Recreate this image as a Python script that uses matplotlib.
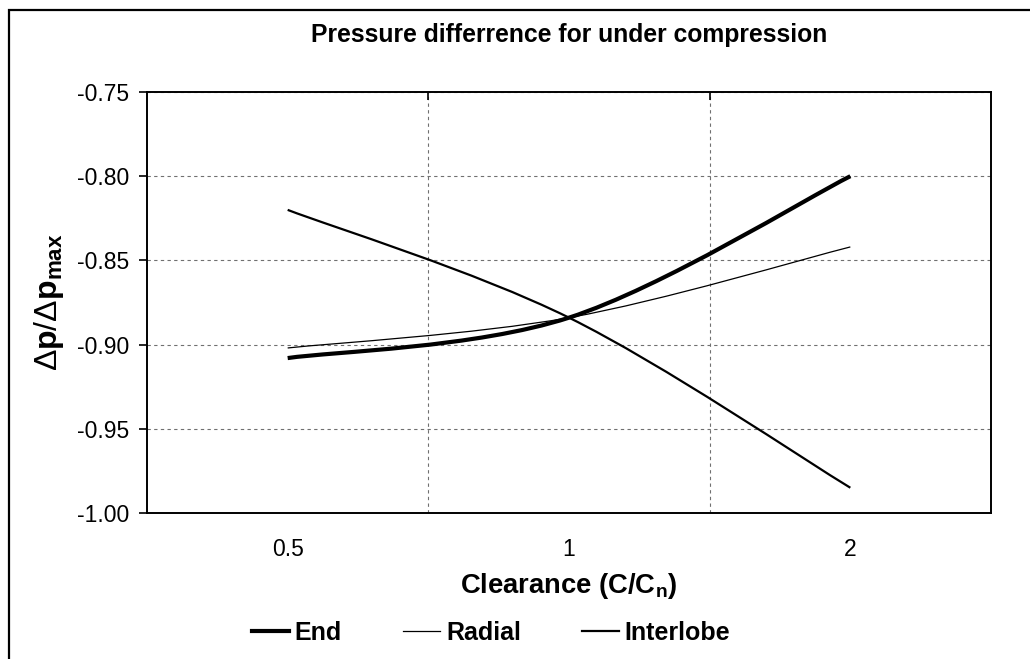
import matplotlib.pyplot as plt
from matplotlib.path import Path
from matplotlib.patches import PathPatch, Rectangle
from matplotlib.lines import Line2D

plt.rcParams['font.family'] = ['Liberation Sans', 'DejaVu Sans']
plt.rcParams['mathtext.fontset'] = 'custom'
plt.rcParams['mathtext.rm'] = 'Liberation Sans'
plt.rcParams['mathtext.bf'] = 'Liberation Sans:bold'

clearance = ['0.5', '1', '2']
end = [-0.908, -0.884, -0.800]
radial = [-0.902, -0.884, -0.842]
interlobe = [-0.820, -0.884, -0.985]
yticks = [-1.00, -0.95, -0.90, -0.85, -0.80, -0.75]


def smooth_path(ys):
    # Excel-style smoothed line: cubic bezier through the points
    xs = list(range(len(ys)))
    pts = list(zip(xs, ys))
    verts = [pts[0]]
    codes = [Path.MOVETO]
    n = len(pts)
    for i in range(n - 1):
        p0 = pts[max(i - 1, 0)]
        p1 = pts[i]
        p2 = pts[i + 1]
        p3 = pts[min(i + 2, n - 1)]
        c1 = (p1[0] + (p2[0] - p0[0]) / 6, p1[1] + (p2[1] - p0[1]) / 6)
        c2 = (p2[0] - (p3[0] - p1[0]) / 6, p2[1] - (p3[1] - p1[1]) / 6)
        verts += [c1, c2, p2]
        codes += [Path.CURVE4] * 3
    return Path(verts, codes)


fig = plt.figure(figsize=(10.3, 6.59), dpi=100)
ax = fig.add_axes([147 / 1030, 1 - 513 / 659, (991 - 147) / 1030, (513 - 92) / 659])

# outer chart frame (cut off at right and bottom)
fig.patches.append(Rectangle((9 / 1030, -0.05), 1.2, 1 - 10 / 659 + 0.05,
                             transform=fig.transFigure, fill=False,
                             edgecolor='black', linewidth=1.6, zorder=0))

series = [(end, 'End', 3.0), (radial, 'Radial', 0.9), (interlobe, 'Interlobe', 1.6)]
handles = []
for ys, name, lw in series:
    ax.add_patch(PathPatch(smooth_path(ys), fill=False, edgecolor='black',
                           linewidth=lw, capstyle='butt', zorder=3))
    handles.append(Line2D([], [], color='black', linewidth=lw, label=name))

ax.set_xlim(-0.5, 2.5)
ax.set_ylim(-1.00, -0.75)
ax.set_xticks(range(len(clearance)))
ax.set_xticklabels(clearance)
ax.set_xticks([0.5, 1.5], minor=True)
ax.set_yticks(yticks)
ax.set_yticklabels(['%.2f' % v for v in yticks])

ax.tick_params(axis='x', which='major', length=0, labelsize=16.5, pad=18)
ax.tick_params(axis='x', which='minor', direction='in', length=6, width=1.2,
               bottom=False, top=True)
ax.tick_params(axis='y', direction='out', length=6, width=1.2, labelsize=16.5, pad=7)

ax.grid(True, which='minor', axis='x', linestyle=(0, (3, 3)), color='#707070', linewidth=0.8)
ax.grid(True, which='major', axis='y', linestyle=(0, (3, 3)), color='#707070', linewidth=0.8)
for s in ax.spines.values():
    s.set_linewidth(1.4)

ax.set_title('Pressure differrence for under compression', fontsize=17.8,
             fontweight='bold', y=1.0, pad=36)
ax.set_xlabel('Clearance (C/C$_\\mathbf{n}$)', fontsize=19.7, fontweight='bold', labelpad=7)
ax.set_ylabel('$\\Delta\\mathbf{p}/\\Delta\\mathbf{p}_{\\mathbf{max}}$', fontsize=23, labelpad=8)

fig.legend(handles=handles, loc='center', bbox_to_anchor=(491 / 1030, 1 - 633 / 659),
           ncol=3, frameon=False, handlelength=1.48, handletextpad=0.24,
           columnspacing=2.44, prop={'size': 18, 'weight': 'bold'})

fig.savefig('out.png', dpi=100)
